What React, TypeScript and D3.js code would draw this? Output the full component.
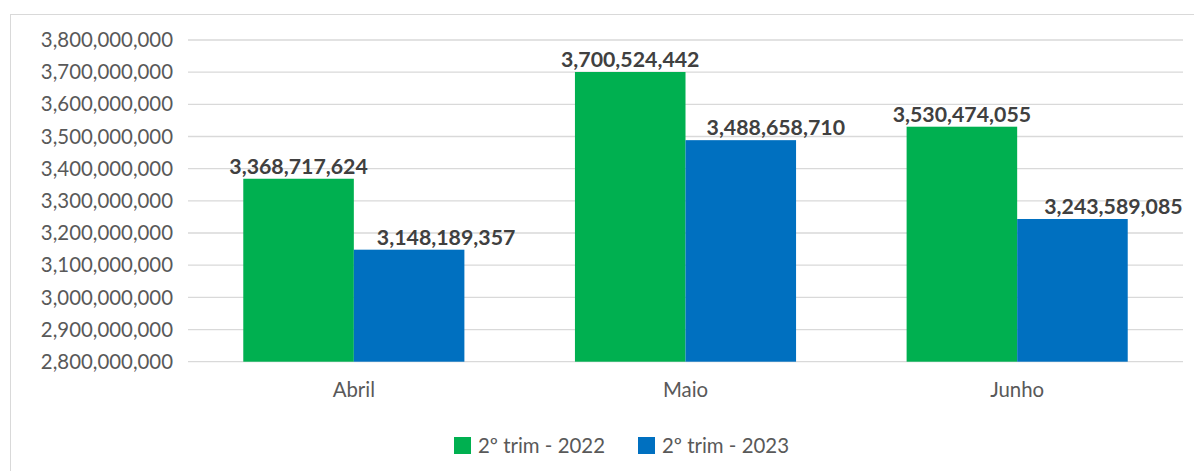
import React from "react";
import * as d3 from "d3";

const categories = ["Abril", "Maio", "Junho"];
const seriesNames = ["2º trim - 2022", "2º trim - 2023"];
const values2022 = [3368717624, 3700524442, 3530474055];
const values2023 = [3148189357, 3488658710, 3243589085];
const yTicks = [2800000000, 2900000000, 3000000000, 3100000000, 3200000000, 3300000000, 3400000000, 3500000000, 3600000000, 3700000000, 3800000000];
const colors = ["#00B050", "#0070C0"];

const W = 1194;
const H = 471;
const FONT = "Lato, 'Open Sans', sans-serif";
// horizontal shift of the data labels per series (2023 labels sit right of their bar)
const labelShift = [[0, 0, 0], [37, 35, 41]];

export default function App() {
  const plotLeft = 188;
  const plotRight = 1183;
  const y = d3.scaleLinear().domain([2800000000, 3800000000]).range([361.7, 40]);
  const x0 = d3.scaleBand().domain(categories).range([plotLeft, plotRight]).paddingInner(1 / 3).paddingOuter(1 / 6);
  const x1 = d3.scaleBand().domain(["0", "1"]).range([0, x0.bandwidth()]);
  const fmt = d3.format(",");
  const series = [values2022, values2023];

  return (
    <svg width={W} height={H} style={{ position: "absolute", left: 0, top: 0, background: "#fff" }}>
      <rect x={10.5} y={14.5} width={1200} height={500} fill="#fff" stroke="#d9d9d9" strokeWidth={1} />
      {yTicks.map((t) => (
        <g key={t}>
          <line x1={plotLeft} x2={plotRight} y1={y(t)} y2={y(t)} stroke="#d9d9d9" strokeWidth={1.3} />
          <text x={173} y={y(t)} dy="0.35em" textAnchor="end" fontFamily={FONT} fontSize={20.4} fill="#595959">
            {fmt(t)}
          </text>
        </g>
      ))}
      {categories.map((c, i) => (
        <g key={c}>
          {series.map((vals, s) => {
            const bx = (x0(c) as number) + (x1(String(s)) as number);
            const bw = x1.bandwidth();
            const by = y(vals[i]);
            return (
              <g key={s}>
                <rect x={bx} y={by} width={bw} height={y(2800000000) - by} fill={colors[s]} />
                <text x={bx + bw / 2 + labelShift[s][i]} y={by - 5} textAnchor="middle" fontFamily={FONT} fontWeight="bold" fontSize={21.3} fill="#404040">
                  {fmt(vals[i])}
                </text>
              </g>
            );
          })}
          <text x={(x0(c) as number) + x0.bandwidth() / 2} y={390} dy="0.35em" textAnchor="middle" fontFamily={FONT} fontSize={20.4} fill="#595959">
            {c}
          </text>
        </g>
      ))}
      {seriesNames.map((n, s) => {
        const lx = s === 0 ? 454 : 638;
        return (
          <g key={n}>
            <rect x={lx} y={437} width={17} height={17} fill={colors[s]} />
            <text x={lx + 24} y={445.5} dy="0.35em" fontFamily={FONT} fontSize={20.4} fill="#595959">
              {n}
            </text>
          </g>
        );
      })}
    </svg>
  );
}
